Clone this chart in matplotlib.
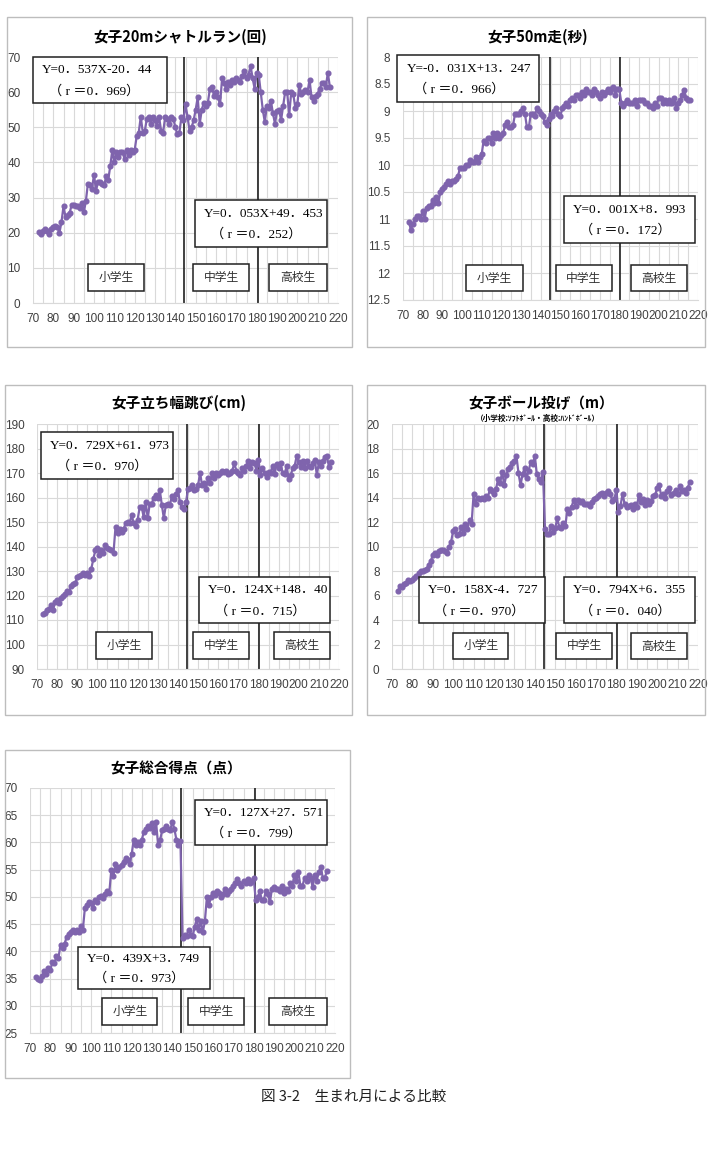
import numpy as np
import matplotlib
matplotlib.use('Agg')
import matplotlib.pyplot as plt
from matplotlib.patches import Rectangle
from matplotlib.ticker import MultipleLocator, FormatStrFormatter

plt.rcParams['font.family'] = ['Liberation Sans', 'Noto Sans CJK JP']

W, H = 713, 1158

# 月齢 (73～216ヶ月)
months = list(range(73, 217))

shuttle = [20.3, 19.5, 20.5, 21.0, 20.5, 19.5, 21.0, 21.5,
           22.0, 21.5, 20.0, 23.0, 27.5, 24.5, 25.0, 25.5, 28.0, 28.0,
           27.5, 27.5, 27.0, 28.5, 25.8, 29.0, 34.0, 33.5, 32.5, 36.5,
           32.0, 34.5, 34.5, 34.0, 33.5, 36.0, 35.0, 39.0, 43.5, 40.0,
           43.0, 41.5, 43.0, 43.0, 41.0, 43.5, 42.0, 43.5, 43.0, 43.5,
           47.5, 48.5, 53.0, 48.5, 49.0, 52.5, 53.0, 51.0, 53.0, 52.0,
           50.5, 53.0, 49.0, 48.5, 53.0, 52.5, 51.0, 53.0, 52.5, 50.0,
           48.0, 48.5, 53.0, 52.0,
           56.5, 53.0, 49.0, 50.0, 52.0, 55.0,
           58.5, 51.0, 55.0, 57.0, 56.0, 57.0, 61.0, 61.5, 59.0, 60.0,
           58.5, 56.5, 64.0, 62.5, 61.0, 63.0, 62.0, 63.5, 63.0, 64.0,
           63.5, 63.0, 64.5, 66.0, 64.0, 65.0, 67.5, 64.0, 61.0, 65.5,
           65.0, 60.0, 55.0, 51.5, 56.0, 55.5, 57.5, 54.0, 51.0, 54.5,
           55.0, 52.0, 56.0, 60.0, 60.0, 53.5, 60.0, 59.5, 55.5, 56.5,
           62.0, 59.5, 60.0, 60.5, 60.0, 63.5, 58.5, 57.5, 59.0, 59.5,
           61.0, 62.5, 62.5, 61.5, 65.5, 61.5]

sprint = [11.05, 11.2, 11.1, 11.0, 10.95, 10.95, 11.0, 10.85,
          11.0, 10.8, 10.75, 10.75, 10.65, 10.7, 10.6, 10.7, 10.5, 10.45,
          10.4, 10.35, 10.3, 10.35, 10.3, 10.3, 10.25, 10.2, 10.05, 10.05,
          10.05, 10.0, 10.0, 9.9, 9.95, 9.95, 9.85, 9.95, 9.85, 9.8,
          9.55, 9.6, 9.5, 9.5, 9.6, 9.4, 9.5, 9.4, 9.5, 9.45,
          9.4, 9.25, 9.2, 9.3, 9.3, 9.25, 9.05, 9.05, 9.05, 9.0,
          8.95, 9.05, 9.3, 9.3, 9.05, 9.05, 9.1, 8.95, 9.0, 9.05,
          9.1, 9.2, 9.25, 9.15,
          9.05, 9.1, 9.0, 8.95, 9.05, 9.1,
          8.95, 8.9, 8.85, 8.9, 8.8, 8.75, 8.8, 8.7, 8.7, 8.75,
          8.65, 8.7, 8.6, 8.65, 8.65, 8.7, 8.6, 8.65, 8.7, 8.75,
          8.65, 8.7, 8.65, 8.6, 8.65, 8.6, 8.55, 8.7, 8.6, 8.6,
          8.85, 8.9, 8.85, 8.8, 8.85, 8.85, 8.85, 8.8, 8.9, 8.8,
          8.8, 8.8, 8.85, 8.85, 8.9, 8.9, 8.95, 8.85, 8.9, 8.75,
          8.75, 8.85, 8.8, 8.85, 8.8, 8.85, 8.85, 8.75, 8.95, 8.85,
          8.8, 8.7, 8.62, 8.75, 8.8, 8.8]

jump = [112.5, 113.0, 114.0, 114.5, 116.0, 114.0, 117.5, 118.0,
        117.0, 119.0, 120.0, 120.5, 122.0, 121.5, 124.0, 124.5, 125.0, 127.5,
        128.0, 128.5, 129.0, 128.5, 129.0, 128.0, 131.0, 135.0, 138.5, 139.5,
        136.5, 138.5, 137.5, 140.5, 139.5, 139.0, 138.5, 137.5, 148.0, 145.5,
        147.0, 146.0, 147.0, 149.5, 150.0, 149.5, 153.0, 149.5, 148.5, 151.0,
        156.0, 156.0, 152.0, 158.0, 151.5, 157.5, 157.5, 160.0, 161.0, 160.0,
        163.0, 157.0, 151.5, 157.0, 157.5, 157.0, 160.5, 159.5, 161.5, 163.0,
        158.0, 156.0, 155.5, 158.0,
        163.5, 164.0, 165.0, 163.0, 163.5, 165.0,
        170.0, 165.0, 166.0, 163.5, 168.0, 166.0, 170.0, 168.0, 170.0, 169.0,
        170.0, 171.0, 170.5, 171.0, 169.5, 170.0, 171.0, 174.0, 171.0, 170.0,
        169.0, 172.0, 171.0, 173.0, 175.0, 172.0, 174.5, 174.0, 171.0, 175.5,
        169.0, 172.0, 170.0, 168.5, 170.5, 170.0, 173.0, 169.5, 173.5, 172.0,
        174.0, 170.0, 169.5, 173.0, 167.5, 169.0, 172.0, 173.0, 177.0, 174.5,
        172.5, 175.0, 172.0, 175.0, 173.0, 172.5, 174.0, 175.5, 169.0, 174.5,
        173.0, 175.0, 176.5, 177.0, 172.5, 174.5]

throw = [6.4, 6.8, 6.7, 6.9, 7.0, 7.3, 7.2, 7.3,
         7.4, 7.6, 7.8, 8.0, 8.0, 8.1, 8.2, 8.5, 8.8, 9.3,
         9.5, 9.3, 9.6, 9.7, 9.7, 9.6, 9.5, 10.0, 10.4, 11.3,
         11.4, 10.9, 11.0, 11.6, 11.1, 11.8, 11.4, 12.2, 11.8, 14.3,
         13.5, 14.0, 13.9, 14.0, 13.9, 14.1, 14.0, 14.7, 14.5, 14.3,
         14.7, 15.5, 15.2, 16.1, 15.0, 15.8, 16.3, 16.5, 16.8, 17.0,
         17.4, 16.0, 15.0, 15.9, 16.4, 15.6, 16.2, 16.9, 16.7, 17.4,
         15.9, 15.5, 15.3, 16.1,
         11.4, 11.0, 11.0, 11.7, 11.2, 11.5,
         12.3, 11.6, 11.5, 11.9, 11.7, 13.1, 12.7, 13.2, 13.8, 13.3,
         13.8, 13.6, 13.7, 13.5, 13.5, 13.5, 13.3, 13.6, 13.9, 14.0,
         14.1, 14.3, 14.4, 14.1, 14.4, 14.5, 14.3, 13.7, 13.9, 14.6,
         12.8, 13.3, 14.3, 13.5, 13.2, 13.3, 13.4, 13.1, 13.5, 13.2,
         14.2, 13.6, 13.9, 13.4, 13.8, 13.5, 13.7, 14.1, 14.2, 14.8,
         15.0, 14.1, 14.3, 14.0, 14.5, 14.8, 14.2, 14.4, 14.6, 14.3,
         14.9, 14.5, 14.6, 14.4, 14.8, 15.3]

total = [35.2, 34.9, 34.8, 35.5, 36.3, 35.8, 36.9, 36.5,
         38.0, 37.8, 39.2, 38.8, 41.2, 40.7, 41.4, 42.6, 43.1, 43.5,
         44.0, 43.5, 43.9, 43.6, 44.6, 44.0, 48.0, 48.5, 49.0, 48.8,
         47.9, 49.5, 49.0, 50.0, 50.1, 49.8, 50.5, 51.0, 50.8, 55.0,
         53.8, 56.0, 55.0, 55.5, 55.8, 56.5, 57.2, 56.8, 56.0, 57.8,
         60.5, 59.5, 60.0, 59.5, 60.5, 62.0, 62.5, 63.0, 62.6, 63.5,
         62.0, 63.8, 59.5, 60.5, 62.2, 62.5, 63.0, 62.5, 62.3, 63.8,
         62.5, 60.5, 59.5, 60.2,
         42.5, 43.0, 42.8, 44.0, 43.0, 42.8,
         44.5, 46.0, 44.0, 45.5, 43.6, 45.5, 50.0, 48.5, 50.0, 50.8,
         50.3, 51.0, 50.8, 50.0, 50.5, 51.5, 50.5, 51.0, 51.5, 52.0,
         52.5, 53.2, 52.5, 52.0, 53.0, 52.5, 53.3, 52.5, 53.0, 53.5,
         49.5, 50.0, 51.0, 49.5, 49.5, 51.0, 50.5, 49.0, 51.5, 51.8,
         51.5, 51.5, 51.0, 52.0, 50.8, 51.5, 51.0, 52.5, 52.0, 54.0,
         53.0, 54.5, 52.0, 52.0, 53.5, 53.0, 54.0, 53.5, 51.8, 54.0,
         53.0, 54.5, 55.5, 53.5, 53.5, 54.8]

titles = ['女子20mシャトルラン(回)', '女子50m走(秒)', '女子立ち幅跳び(cm)',
          '女子ボール投げ（m）', '女子総合得点（点）']
equations = [
    [('Y=0．537X-20．44', '（ r ＝0．969）'), ('Y=0．053X+49．453', '（ r ＝0．252）')],
    [('Y=-0．031X+13．247', '（ r ＝0．966）'), ('Y=0．001X+8．993', '（ r ＝0．172）')],
    [('Y=0．729X+61．973', '（ r ＝0．970）'), ('Y=0．124X+148．40', '（ r ＝0．715）')],
    [('Y=0．158X-4．727', '（ r ＝0．970）'), ('Y=0．794X+6．355', '（ r ＝0．040）')],
    [('Y=0．439X+3．749', '（ r ＝0．973）'), ('Y=0．127X+27．571', '（ r ＝0．799）')],
]
stages = ['小学生', '中学生', '高校生']

# 各グラフの配置 (ピクセル)
panels = [
    dict(y=shuttle, ylim=(0, 70), step=10, inv=False,
         ax=(33, 57, 338, 303), frame=(7, 17, 352, 347), title_xy=(180, 37),
         eq=[(0.0, 0.813, 0.438, 1.0), (0.53, 0.228, 0.964, 0.419)],
         lab=[(0.18, 0.364), (0.525, 0.708), (0.774, 0.964)], lab_y=(0.049, 0.159)),
    dict(y=sprint, ylim=(8, 12.5), step=0.5, inv=True,
         ax=(403, 57, 698, 300), frame=(367, 17, 705, 347), title_xy=(538, 37),
         eq=[(-0.02, 0.815, 0.46, 1.008), (0.546, 0.235, 0.99, 0.428)],
         lab=[(0.214, 0.407), (0.519, 0.708), (0.773, 0.963)], lab_y=(0.037, 0.144)),
    dict(y=jump, ylim=(90, 190), step=10, inv=False,
         ax=(37, 424, 339, 669), frame=(5, 385, 352, 715), title_xy=(179, 403),
         eq=[(0.013, 0.776, 0.45, 0.967), (0.536, 0.188, 0.97, 0.376)],
         lab=[(0.195, 0.38), (0.517, 0.702), (0.785, 0.97)], lab_y=(0.041, 0.151)),
    dict(y=throw, ylim=(0, 20), step=2, inv=False,
         ax=(392, 424, 698, 669), frame=(367, 385, 705, 715), title_xy=(541, 403),
         eq=[(0.088, 0.188, 0.5, 0.376), (0.562, 0.188, 0.99, 0.376)],
         lab=[(0.2, 0.38), (0.536, 0.719), (0.781, 0.964)], lab_y=(0.041, 0.147)),
    dict(y=total, ylim=(25, 70), step=5, inv=False,
         ax=(30, 788, 335, 1033), frame=(5, 750, 350, 1078), title_xy=(176, 768),
         eq=[(0.157, 0.18, 0.59, 0.351), (0.541, 0.767, 0.974, 0.951)],
         lab=[(0.236, 0.418), (0.518, 0.703), (0.784, 0.974)], lab_y=(0.033, 0.143)),
]

purple = '#7f64ad'
serif = ['Liberation Serif', 'Noto Sans CJK JP']
cjk = ['Noto Sans CJK JP', 'DejaVu Sans']


def px_rect(l, t, r, b):
    return [l / W, 1 - b / H, (r - l) / W, (b - t) / H]


fig = plt.figure(figsize=(W / 100, H / 100), dpi=100)

for i, p in enumerate(panels):
    # 枠
    l, t, r, b = p['frame']
    fig.patches.append(Rectangle((l / W, 1 - b / H), (r - l) / W, (b - t) / H,
                                 transform=fig.transFigure, fill=False,
                                 edgecolor='#bdbdbd', lw=1.0))
    tx, ty = p['title_xy']
    fig.text(tx / W, 1 - ty / H, titles[i], ha='center', va='center',
             fontsize=10.5, fontweight='bold', family=cjk)
    if i == 3:
        fig.text(538 / W, 1 - 418 / H, '（小学校:ｿﾌﾄﾎﾞｰﾙ・高校:ﾊﾝﾄﾞﾎﾞｰﾙ）',
                 ha='center', va='center', fontsize=5.5, fontweight='bold', family=cjk)

    ax = fig.add_axes(px_rect(*p['ax']))
    ax.plot(months, p['y'], color=purple, lw=1.6, marker='o', ms=3.4,
            mec=purple, mfc=purple, zorder=3)
    ax.set_xlim(70, 220)
    if p['inv']:
        ax.set_ylim(p['ylim'][1], p['ylim'][0])
    else:
        ax.set_ylim(*p['ylim'])
    ax.xaxis.set_major_locator(MultipleLocator(10))
    ax.xaxis.set_minor_locator(MultipleLocator(5))
    ax.yaxis.set_major_locator(MultipleLocator(p['step']))
    ax.yaxis.set_major_formatter(FormatStrFormatter('%g'))
    ax.grid(True, which='both', axis='x', color='#d9d9d9', lw=0.8, zorder=0)
    ax.grid(True, which='major', axis='y', color='#d9d9d9', lw=0.8, zorder=0)
    ax.set_axisbelow(True)
    ax.tick_params(which='both', length=0, labelsize=8.5, colors='#404040')
    ax.tick_params(axis='x', pad=7)
    ax.tick_params(axis='y', pad=9)
    for s in ['top', 'right', 'left']:
        ax.spines[s].set_visible(False)
    ax.spines['bottom'].set_color('#d9d9d9')

    for xv in (144.5, 180.5):
        ax.axvline(xv, color='#202020', lw=1.2, zorder=2.5)

    # 回帰式の枠
    for (x0, y0, x1, y1), (l1, l2) in zip(p['eq'], equations[i]):
        ax.add_patch(Rectangle((x0, y0), x1 - x0, y1 - y0, transform=ax.transAxes,
                               facecolor='white', edgecolor='#202020', lw=1.1,
                               zorder=5, clip_on=False))
        w = x1 - x0
        hgt = y1 - y0
        ax.text(x0 + 0.07 * w, y0 + 0.71 * hgt, l1, transform=ax.transAxes,
                ha='left', va='center', fontsize=9.5, family=serif, zorder=6)
        ax.text(x0 + 0.12 * w, y0 + 0.26 * hgt, l2, transform=ax.transAxes,
                ha='left', va='center', fontsize=9.5, family=serif, zorder=6)

    # 学校段階の枠
    ly0, ly1 = p['lab_y']
    for (x0, x1), name in zip(p['lab'], stages):
        ax.add_patch(Rectangle((x0, ly0), x1 - x0, ly1 - ly0, transform=ax.transAxes,
                               facecolor='white', edgecolor='#202020', lw=1.1,
                               zorder=5, clip_on=False))
        ax.text((x0 + x1) / 2, (ly0 + ly1) / 2, name, transform=ax.transAxes,
                ha='center', va='center', fontsize=8.5, family=cjk,
                color='#303030', zorder=6)

fig.text(354 / W, 1 - 1097 / H, '図 3-2　生まれ月による比較', ha='center', va='center',
         fontsize=10.5, family=cjk, color='#202020')

fig.savefig('out.png', dpi=100)
